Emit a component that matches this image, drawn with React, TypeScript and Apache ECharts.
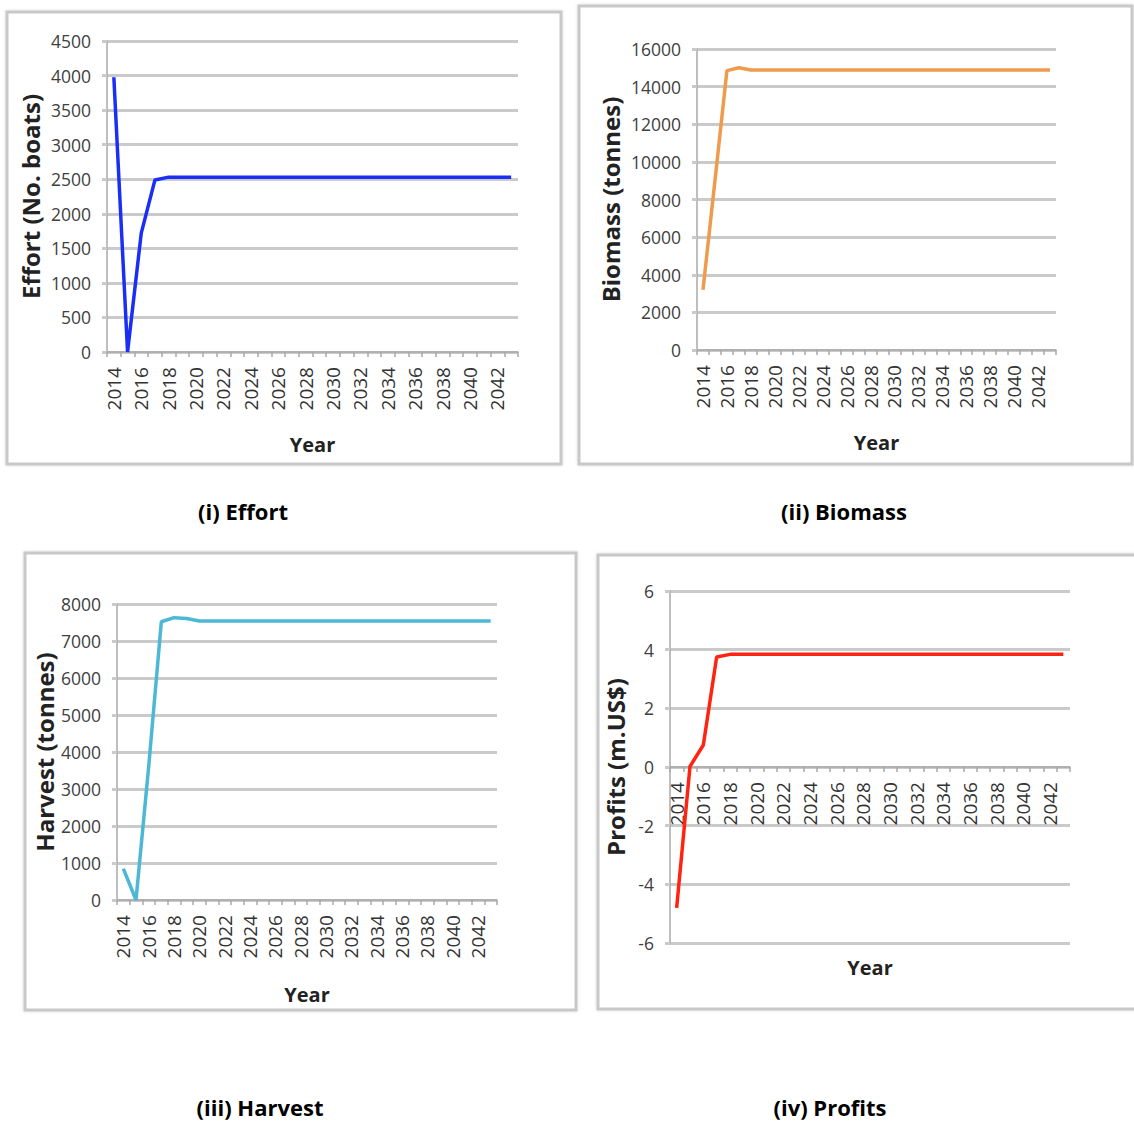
import React, { useEffect, useRef } from "react";
import * as echarts from "echarts";

const years = [
  "2014", "2015", "2016", "2017", "2018", "2019", "2020", "2021", "2022", "2023",
  "2024", "2025", "2026", "2027", "2028", "2029", "2030", "2031", "2032", "2033",
  "2034", "2035", "2036", "2037", "2038", "2039", "2040", "2041", "2042", "2043",
];

const effort = [
  3975, 0, 1720, 2490, 2530, 2530, 2530, 2530, 2530, 2530,
  2530, 2530, 2530, 2530, 2530, 2530, 2530, 2530, 2530, 2530,
  2530, 2530, 2530, 2530, 2530, 2530, 2530, 2530, 2530, 2530,
];

const biomass = [
  3200, 9000, 14850, 15000, 14880, 14880, 14880, 14880, 14880, 14880,
  14880, 14880, 14880, 14880, 14880, 14880, 14880, 14880, 14880, 14880,
  14880, 14880, 14880, 14880, 14880, 14880, 14880, 14880, 14880, 14880,
];

const harvest = [
  850, 0, 3600, 7520, 7630, 7610, 7540, 7540, 7540, 7540,
  7540, 7540, 7540, 7540, 7540, 7540, 7540, 7540, 7540, 7540,
  7540, 7540, 7540, 7540, 7540, 7540, 7540, 7540, 7540, 7540,
];

const profits = [
  -4.8, 0.02, 0.75, 3.75, 3.84, 3.84, 3.84, 3.84, 3.84, 3.84,
  3.84, 3.84, 3.84, 3.84, 3.84, 3.84, 3.84, 3.84, 3.84, 3.84,
  3.84, 3.84, 3.84, 3.84, 3.84, 3.84, 3.84, 3.84, 3.84, 3.84,
];

const yNames = ["Effort (No. boats)", "Biomass (tonnes)", "Harvest (tonnes)", "Profits (m.US$)"];
const captions = ["(i) Effort", "(ii) Biomass", "(iii) Harvest", "(iv) Profits"];
const xName = "Year";

const FONT = "Open Sans";

export default function App() {
  const ref = useRef<HTMLDivElement>(null);

  useEffect(() => {
    if (!ref.current) return;
    const chart = echarts.init(ref.current, undefined, { renderer: "svg" });

    const grids = [
      { left: 107, top: 41, width: 411, height: 311 },
      { left: 697, top: 49, width: 359, height: 301 },
      { left: 117, top: 604, width: 380, height: 296 },
      { left: 670, top: 591, width: 400, height: 352 },
    ];
    const yCfg = [
      { min: 0, max: 4500, interval: 500, nameGap: 65 },
      { min: 0, max: 16000, interval: 2000, nameGap: 75 },
      { min: 0, max: 8000, interval: 1000, nameGap: 61 },
      { min: -6, max: 6, interval: 2, nameGap: 43 },
    ];
    const xNameGaps = [82, 82, 84, 190];
    const xOffsets = [0, 0, 0, -176];
    const seriesData = [effort, biomass, harvest, profits];
    const colors = ["#1a2ef6", "#ee9b4c", "#4cb8d6", "#ff2412"];

    const gridLine = "#cacaca";
    const axisLine = "#a8a8a8";

    const option: any = {
      animation: false,
      backgroundColor: "#ffffff",
      grid: grids.map((g) => ({ ...g, containLabel: false, outerBoundsMode: "none" })),
      xAxis: grids.map((_, i) => ({
        type: "category",
        gridIndex: i,
        data: years,
        boundaryGap: true,
        position: "bottom",
        offset: xOffsets[i],
        axisLine: { show: true, onZero: false, lineStyle: { color: axisLine, width: 1.5 } },
        axisTick: { show: true, interval: 0, length: 5, lineStyle: { color: axisLine, width: 1.5 } },
        axisLabel: {
          interval: 1,
          rotate: 90,
          fontFamily: FONT,
          fontSize: 19,
          color: "#333333",
          margin: 15,
        },
        splitLine: { show: false },
        name: xName,
        nameLocation: "middle",
        nameGap: xNameGaps[i],
        nameTextStyle: { fontFamily: FONT, fontWeight: "bold", fontSize: 20, color: "#222222" },
      })),
      yAxis: grids.map((_, i) => ({
        type: "value",
        gridIndex: i,
        min: yCfg[i].min,
        max: yCfg[i].max,
        interval: yCfg[i].interval,
        axisLine: { show: true, lineStyle: { color: axisLine, width: 1.5 } },
        axisTick: { show: true, length: 5, lineStyle: { color: gridLine, width: 3 } },
        axisLabel: {
          fontFamily: FONT,
          fontSize: 17.5,
          color: "#404040",
          margin: 16,
          formatter: (v: number) => String(v),
        },
        splitLine: { show: true, lineStyle: { color: gridLine, width: 3 } },
        name: yNames[i],
        nameLocation: "middle",
        nameGap: yCfg[i].nameGap,
        nameTextStyle: { fontFamily: FONT, fontWeight: "bold", fontSize: 24, color: "#222222" },
      })),
      series: seriesData.map((d, i) => ({
        type: "line",
        xAxisIndex: i,
        yAxisIndex: i,
        data: d,
        symbol: "none",
        showSymbol: false,
        lineStyle: { color: colors[i], width: 3.5 },
        z: 5,
      })),
      graphic: [
        ...[
          { x: 7, y: 12, w: 554, h: 452 },
          { x: 579, y: 6, w: 553, h: 458 },
          { x: 25, y: 553, w: 551, h: 457 },
          { x: 598, y: 555, w: 560, h: 454 },
        ].map((b) => ({
          type: "rect",
          silent: true,
          z: -10,
          shape: { x: b.x, y: b.y, width: b.w, height: b.h },
          style: {
            fill: "#ffffff",
            stroke: "#c8c8c8",
            lineWidth: 3,
            shadowBlur: 3,
            shadowColor: "rgba(0,0,0,0.15)",
          },
        })),
        ...[
          { x: 243, y: 511 },
          { x: 844, y: 511 },
          { x: 260, y: 1107 },
          { x: 830, y: 1107 },
        ].map((p, i) => ({
          type: "text",
          x: p.x,
          y: p.y,
          z: 10,
          style: {
            text: captions[i],
            fontFamily: FONT,
            fontWeight: "bold",
            fontSize: 22,
            fill: "#000000",
            align: "center",
            verticalAlign: "middle",
          },
        })),
      ],
    };

    chart.setOption(option);
    return () => chart.dispose();
  }, []);

  return (
    <div
      ref={ref}
      style={{ position: "absolute", left: 0, top: 0, width: 1134, height: 1122, background: "#fff" }}
    />
  );
}
